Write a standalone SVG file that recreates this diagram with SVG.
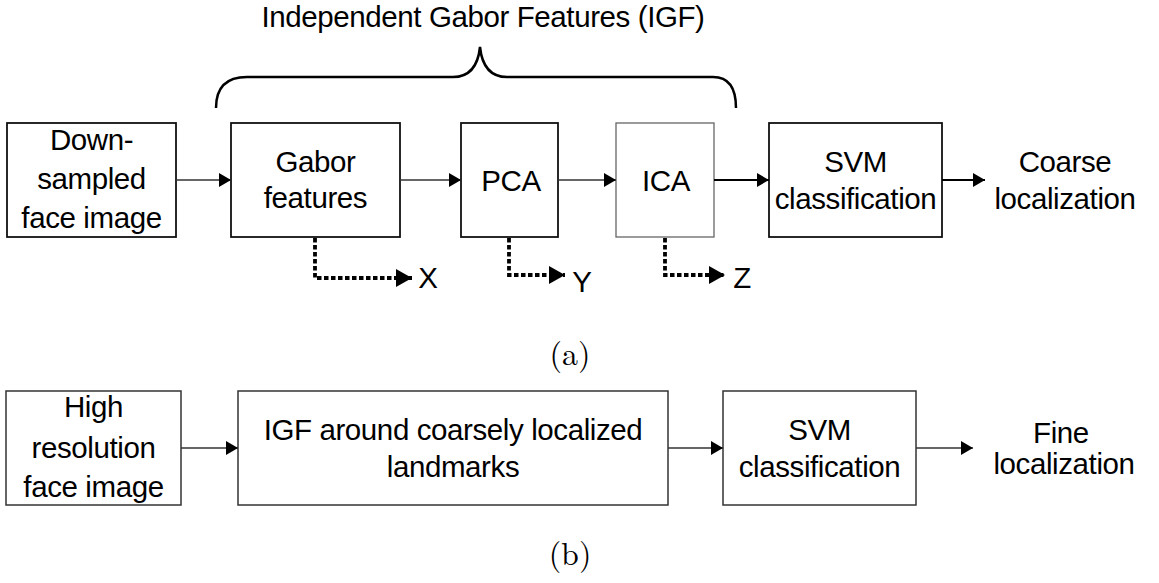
<svg xmlns="http://www.w3.org/2000/svg" width="1159" height="583" viewBox="0 0 1159 583">
<style>
text{font-family:"Liberation Sans",Arial,sans-serif;font-size:29.5px;letter-spacing:-0.4px;fill:#000;text-anchor:middle}
.box{fill:#fff;stroke:#111;stroke-width:1.8}
.lbox{fill:#fff;stroke:#333;stroke-width:1.5}
.thin{fill:none;stroke:#333;stroke-width:1.4}
.thick{fill:none;stroke:#000;stroke-width:2.2}
.dash{fill:none;stroke:#000;stroke-width:3.8;stroke-dasharray:4.5 2.5}
.cap{font-family:"Latin Modern Roman","DejaVu Serif","Liberation Serif",serif;font-size:32px;letter-spacing:0}
</style>
<defs>
<marker id="ah" markerUnits="userSpaceOnUse" markerWidth="14" markerHeight="16" refX="12" refY="7" orient="auto">
<path d="M0,0 L12,7 L0,14 Z" fill="#000"/>
</marker>
<marker id="ahd" markerUnits="userSpaceOnUse" markerWidth="18" markerHeight="20" refX="16" refY="9" orient="auto">
<path d="M0,0 L16,9 L0,18 Z" fill="#000"/>
</marker>
</defs>

<text id="title" x="483" y="27">Independent Gabor Features (IGF)</text>
<path id="brace" d="M216,108 Q216,77 247,77 L453,77 C470,77 478,66 480,47 C482,66 490,77 507,77 L713,77 Q736,77 736,108" fill="none" stroke="#000" stroke-width="2.5"/>

<g id="down">
<rect class="box" x="7" y="123" width="169" height="114"/>
<text x="91.5" y="150">Down-</text>
<text x="91.5" y="189">sampled</text>
<text x="91.5" y="228">face image</text>
</g>
<g id="gabor">
<rect class="box" x="231" y="123" width="169" height="114"/>
<text x="315.5" y="172">Gabor</text>
<text x="315.5" y="208">features</text>
</g>
<g id="pca">
<rect class="box" x="461" y="123" width="97" height="114"/>
<text x="511" y="191">PCA</text>
</g>
<g id="ica">
<rect x="616" y="123" width="98" height="114" fill="#fff" stroke="#666" stroke-width="1.3"/>
<text x="666" y="191">ICA</text>
</g>
<g id="svm1">
<rect class="box" x="769" y="123" width="173" height="114"/>
<text x="855.5" y="172">SVM</text>
<text x="855.5" y="209">classification</text>
</g>
<g id="coarse">
<text x="1065" y="172">Coarse</text>
<text x="1065" y="209">localization</text>
</g>
<g id="xyz">
<text x="428" y="288">X</text>
<text x="582" y="292">Y</text>
<text x="742" y="288">Z</text>
</g>
<text id="label-a" class="cap" x="570" y="365">(a)</text>

<g id="high">
<rect class="lbox" x="6" y="391" width="175" height="114"/>
<text x="93.5" y="417">High</text>
<text x="93.5" y="458">resolution</text>
<text x="93.5" y="497">face image</text>
</g>
<g id="igf">
<rect class="lbox" x="238" y="391" width="430" height="114"/>
<text x="453" y="440">IGF around coarsely localized</text>
<text x="453" y="477">landmarks</text>
</g>
<g id="svm2">
<rect class="lbox" x="723" y="391" width="193" height="114"/>
<text x="819.5" y="440">SVM</text>
<text x="819.5" y="477">classification</text>
</g>
<g id="fine">
<text x="1061" y="443">Fine</text>
<text x="1064" y="474">localization</text>
</g>
<text id="label-b" class="cap" x="570" y="565">(b)</text>

<g id="connectors">
<line class="thin" x1="176" y1="180" x2="231" y2="180" marker-end="url(#ah)"/>
<line class="thin" x1="400" y1="180" x2="461" y2="180" marker-end="url(#ah)"/>
<line class="thin" x1="558" y1="180" x2="616" y2="180" marker-end="url(#ah)"/>
<line class="thick" x1="714" y1="180" x2="769" y2="180" marker-end="url(#ah)"/>
<line class="thick" x1="942" y1="180" x2="985" y2="180" marker-end="url(#ah)"/>
<path class="dash" d="M315,238 V278 H412" marker-end="url(#ahd)"/>
<path class="dash" d="M509,238 V275 H565" marker-end="url(#ahd)"/>
<path class="dash" d="M665,238 V275 H725" marker-end="url(#ahd)"/>
<line class="thin" x1="181" y1="448" x2="238" y2="448" marker-end="url(#ah)"/>
<line class="thin" x1="668" y1="448" x2="723" y2="448" marker-end="url(#ah)"/>
<line class="thin" x1="916" y1="448" x2="973" y2="448" marker-end="url(#ah)"/>
</g>
</svg>
